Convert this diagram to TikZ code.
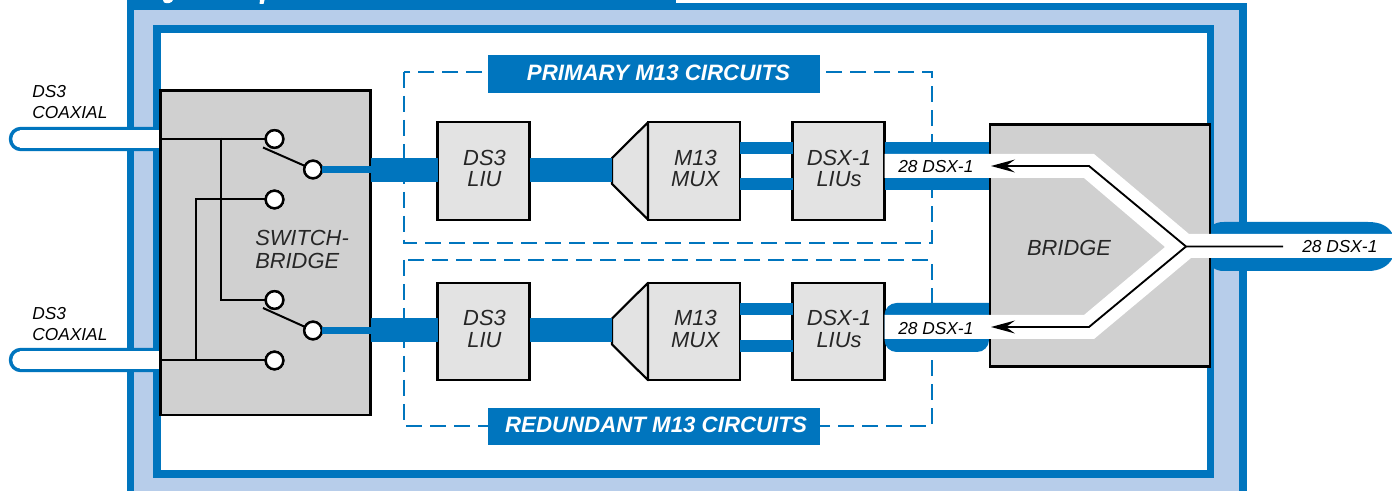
\documentclass[tikz,border=0pt]{standalone}
\usepackage{fontspec}
\setmainfont{Liberation Sans}
\usetikzlibrary{calc}
\definecolor{bl}{HTML}{0075BE}
\definecolor{lb}{HTML}{B7CDEA}
\definecolor{gd}{HTML}{D0D0D0}
\definecolor{gl}{HTML}{E3E3E3}
\definecolor{tx}{HTML}{262626}
\tikzset{
 x=0.75pt,y=-0.75pt,
 graybox/.style={draw=black,line width=1.6pt,fill=gd,inner sep=0pt,outer sep=0pt},
 unit/.style={draw=black,line width=1.6pt,fill=gl,inner sep=0pt,outer sep=0pt,minimum height=73pt},
 unitlabel/.style={font=\fontsize{16.4pt}{16.4pt}\selectfont\itshape,text=tx,align=center,inner sep=0pt},
 pin/.style={circle,draw=black,line width=1.8pt,fill=white,minimum size=13.2pt,inner sep=0pt,outer sep=0pt},
 wire/.style={draw=black,line width=1.5pt},
 thicklink/.style={draw=bl,line width=18pt},
 duallink/.style={draw=bl,line width=9pt},
 frameline/.style={draw=bl,line width=1.7pt,dash pattern=on 12pt off 6pt},
 banner/.style={fill=bl,inner sep=0pt,outer sep=0pt,minimum width=249pt,minimum height=28pt},
 bannertext/.style={text=white,font=\fontsize{16.7pt}{17pt}\selectfont\bfseries\itshape,inner sep=0pt},
 small/.style={font=\fontsize{13pt}{15.8pt}\selectfont\itshape,text=black,inner sep=0pt,align=left},
 big/.style={font=\fontsize{16.4pt}{16.8pt}\selectfont\itshape,text=tx,inner sep=0pt,align=left},
}
\begin{document}
\begin{tikzpicture}
\useasboundingbox (0,0) rectangle (1392,491);
\fill[white] (0,0) rectangle (1392,491);
% frame
\fill[bl] (127,3.5) rectangle (1246.5,500);
\fill[lb] (134,10.5) rectangle (1239,500);
\fill[bl] (153,25.5) rectangle (1214,478);
\fill[white] (161,33) rectangle (1207,470);
\fill[bl] (127,-5) rectangle (676,10.5);
% clipped caption descenders
\fill[white] (163,0) -- (173,0) .. controls (172,3) and (168,4) .. (164,2.5) -- cycle;
\fill[white] (260,0) -- (264.5,0) -- (263.5,4) -- (259.5,4) -- cycle;
% coax cables
\draw[bl,line width=2.6pt,fill=white,rounded corners=7.8pt] (161,128.5) -- (10.5,128.5) -- (10.5,149.5) -- (161,149.5);
\draw[bl,line width=2.6pt,fill=white,rounded corners=7.8pt] (161,349.5) -- (10.5,349.5) -- (10.5,370.5) -- (161,370.5);
\fill[white] (20,130) rectangle (161,148);
\fill[white] (20,351) rectangle (161,369);
\node[small,anchor=north west] (lab1) at (32,85) {DS3\\COAXIAL};
\node[small,anchor=north west] (lab2) at (32,307) {DS3\\COAXIAL};
% dashed frames
\draw[frameline] (404,72) rectangle (932,243);
\draw[frameline] (404,260) rectangle (932,426);
\node[banner] (b1) at (654,74) {};
\node[banner] (b2) at (654,426.5) {};
\node[bannertext] (bt1) at (658.5,73) {PRIMARY M13 CIRCUITS};
\node[bannertext] (bt2) at (656,425) {REDUNDANT M13 CIRCUITS};
% switch box
\node[graybox,anchor=north west,minimum width=157.5pt,minimum height=243.5pt] (sw) at (160.5,90.5) {};
\node[big,anchor=west] (swl) at (255,249.5) {SWITCH-\\BRIDGE};
% blocks
\foreach \n/\y in {p/171,r/331.5}{
 \node[unit,minimum width=69pt] (liu\n) at (483.5,\y) {};
 \node[unit,minimum width=69pt] (mux\n) at (694,\y) {};
 \node[unit,minimum width=69pt] (dsx\n) at (838.5,\y) {};
 \node[unitlabel] (liut\n) at (484.5,\y-2.5) {DS3\\LIU};
 \node[unitlabel] (muxt\n) at (695.5,\y-2.5) {M13\\MUX};
 \node[unitlabel] (dsxt\n) at (839,\y-2.5) {DSX-1\\LIUs};
 \coordinate (tu\n) at (612,\y-13);
 \coordinate (td\n) at (612,\y+13);
}
\draw[black,line width=1.6pt,line join=round,fill=gl] (muxp.north west) -- (tup) -- (tdp) -- (muxp.south west) -- cycle;
\draw[black,line width=1.6pt,line join=round,fill=gl] (muxr.north west) -- (tur) -- (tdr) -- (muxr.south west) -- cycle;
% pins
\node[pin] (c1) at (274.5,139) {};
\node[pin] (c2) at (313,169.5) {};
\node[pin] (c3) at (274.5,199.5) {};
\node[pin] (c4) at (274.5,300) {};
\node[pin] (c5) at (313,330.5) {};
\node[pin] (c6) at (274.5,360.5) {};
\coordinate (arm1) at (263,147.5);
\coordinate (arm2) at (263,308);
\coordinate (j1) at (221,138);
\coordinate (j2) at (196,360.5);
% wires
\draw[wire] (sw.west |- c1) -- (c1);
\draw[wire] (j1) |- (c4);
\draw[wire] (j2) |- (c3);
\draw[wire] (sw.west |- c6) -- (c6);
\draw[wire] (arm1) -- (c2);
\draw[wire] (arm2) -- (c5);
\node[pin] at (c1) {};\node[pin] at (c2) {};\node[pin] at (c3) {};
\node[pin] at (c4) {};\node[pin] at (c5) {};\node[pin] at (c6) {};
% blue links
\draw[draw=bl,line width=5pt] (c2.east) -- (sw.east |- c2);
\draw[draw=bl,line width=5pt] (c5.east) -- (sw.east |- c5);
\draw[thicklink] (sw.east |- 0,170) -- (liup.west |- 0,170);
\draw[thicklink] (liup.east |- 0,170) -- (tup |- 0,170);
\draw[thicklink] (sw.east |- 0,330.5) -- (liur.west |- 0,330.5);
\draw[thicklink] (liur.east |- 0,330.5) -- (tur |- 0,330.5);
\foreach \n/\a/\b in {p/148/184,r/309/346}{
 \draw[duallink] (mux\n.east |- 0,\a) -- (dsx\n.west |- 0,\a);
 \draw[duallink] (mux\n.east |- 0,\b) -- (dsx\n.west |- 0,\b);
}
% right cable
\path[fill=bl] (1208,234) .. controls (1210,226) and (1214,222) .. (1224,222) -- (1368,222) .. controls (1380,222) and (1388,226) .. (1392,233) -- (1392,259) .. controls (1388,266) and (1380,271) .. (1368,271) -- (1224,271) .. controls (1214,271) and (1210,266) .. (1208,258) -- cycle;
% DSX to bridge bands
\coordinate (bw) at (989,0);
\fill[bl] (dsxp.east |- 0,142) rectangle (bw |- 0,190.5);
\fill[bl,rounded corners=9pt] (bw |- 0,303) -- (dsxr.east |- 0,303) -- (dsxr.east |- 0,352) -- (bw |- 0,352) [sharp corners] -- cycle;
% bridge box
\node[graybox,anchor=north west,minimum width=165pt,minimum height=181.5pt] (br) at (990,124.5) {};
\node[big] (brl) at (1069,248) {BRIDGE};
\fill[white] (dsxp.east |- 0,154) -- (1094,154) -- (1189,234) -- (1392,234) -- (1392,258) -- (1191,258) -- (1094,339) -- (dsxr.east |- 0,339) -- (dsxr.east |- 0,315) -- (1084,315) -- (1165,247) -- (1084,178) -- (dsxp.east |- 0,178) -- cycle;
% arrow lines
\coordinate (tip1) at (991,166);
\coordinate (tip2) at (991,327);
\coordinate (vx) at (1186,246.5);
\coordinate (tail) at (1283,246.5);
\draw[black,line width=1.4pt,line join=round] (tail) -- (vx) -- (1089,166) -- (1006,166);
\draw[black,line width=1.4pt,line join=round] (vx) -- (1089,327) -- (1006,327);
\fill[black] (tip1) -- (1015,159.5) -- (1006,166) -- (1015,172.5) -- cycle;
\fill[black] (tip2) -- (1015,320.5) -- (1006,327) -- (1015,333.5) -- cycle;
\node[small,anchor=west] (d1) at (898,166.5) {28 DSX-1};
\node[small,anchor=west] (d2) at (898,329) {28 DSX-1};
\node[small,anchor=west] (d3) at (1302,247) {28 DSX-1};
\end{tikzpicture}
\end{document}
